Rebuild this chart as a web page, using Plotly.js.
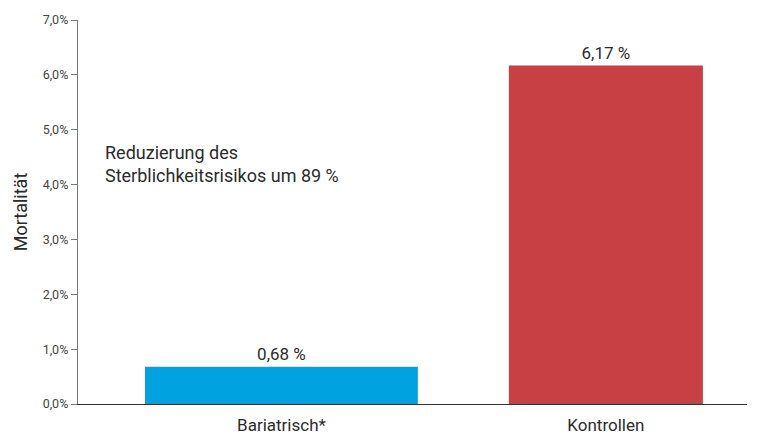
<!DOCTYPE html>
<html><head><meta charset="utf-8">
<script src="https://cdn.plot.ly/plotly-3.0.1.min.js"></script>
<style>html,body{margin:0;padding:0;background:#fff}#chart{width:764px;height:445px}</style>
</head><body><div id="chart"></div>
<script>
const categories = ["Bariatrisch*", "Kontrollen"];
const mortality = [0.68, 6.17];
const barLabels = ["0,68 %", "6,17 %"];
const barColors = ["#00A3E0", "#C94044"];
const barWidths = [0.841, 0.598];
const yTickVals = [0, 1, 2, 3, 4, 5, 6, 7];
const yTickText = ["0,0%", "1,0%", "2,0%", "3,0%", "4,0%", "5,0%", "6,0%", "7,0%"];
const note = "Reduzierung des<br>Sterblichkeitsrisikos um 89 %";

const font = "Roboto, 'DejaVu Sans Condensed', sans-serif";
const ink = "#2b2b2b";
Plotly.newPlot("chart", [{
  type: "bar", x: categories, y: mortality, width: barWidths,
  marker: {color: barColors, line: {width: 0}},
  text: barLabels, textposition: "outside", cliponaxis: false,
  textfont: {family: font, size: 17, color: ink},
  hoverinfo: "none"
}], {
  width: 764, height: 445,
  margin: {l: 78, r: 17, t: 20, b: 41},
  paper_bgcolor: "#fff", plot_bgcolor: "#fff",
  showlegend: false,
  xaxis: {type: "category", range: [-0.627, 1.435], showline: true, linecolor: "#333", linewidth: 1.2,
          showgrid: false, zeroline: false, ticks: "outside", ticklen: 5, tickcolor: "rgba(0,0,0,0)",
          tickfont: {family: font, size: 17, color: ink}},
  yaxis: {range: [0, 7], tickvals: yTickVals, ticktext: yTickText, showline: true, linecolor: "#777", linewidth: 1.2,
          ticks: "outside", ticklen: 6, tickcolor: "#777", tickwidth: 1, showgrid: false, zeroline: false,
          tickfont: {family: font, size: 12.5, color: "#444"},
          title: {text: "Mortalität", font: {family: font, size: 18, color: ink}, standoff: 10}},
  annotations: [{xref: "paper", yref: "paper", x: 0.037, y: 0.688, xanchor: "left", yanchor: "top", align: "left",
    showarrow: false, text: note, font: {family: font, size: 18, color: ink}}]
}, {staticPlot: true});
</script></body></html>
